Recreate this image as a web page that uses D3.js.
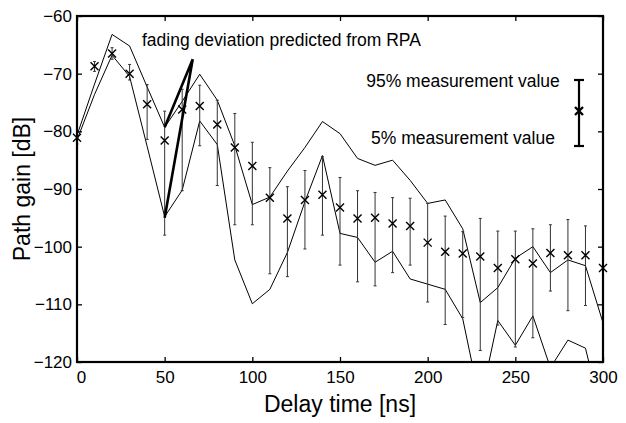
<!DOCTYPE html>
<html>
<head>
<meta charset="utf-8">
<script src="https://cdn.jsdelivr.net/npm/d3@7"></script>
<style>
  body { margin: 0; background: #fff; }
  svg { display: block; font-family: "Liberation Sans", Arial, sans-serif; }
</style>
</head>
<body>
<svg id="chart" width="626" height="423"></svg>
<script>
// delay bins [ns]
var delay = [0,10,20,30,40,50,60,70,80,90,100,110,120,130,140,150,160,170,180,190,200,210,220,230,240,250,260,270,280,290,300];

// measured mean path gain [dB]
var meanGain = [-81.1,-68.7,-66.5,-70.0,-75.3,-81.6,-76.2,-75.6,-78.8,-82.8,-86.0,-91.5,-95.1,-91.9,-91.0,-93.2,-95.1,-95.0,-96.0,-96.4,-99.3,-100.9,-101.2,-101.7,-103.7,-102.2,-102.9,-101.1,-101.5,-101.5,-103.7];
// 95% and 5% measurement values
var p95 = [-80.2,-67.9,-65.5,-68.4,-71.9,-76.5,-72.7,-72.0,-74.6,-76.9,-81.9,-86.3,-89.6,-86.8,-84.4,-88.0,-90.3,-90.6,-91.5,-91.6,-92.5,-94.7,-97.4,-95.1,-97.3,-97.3,-96.9,-96.2,-95.3,-96.4,null];
var p5 = [-82.2,-69.6,-67.5,-71.1,-81.4,-98.0,-90.3,-82.5,-89.4,-96.2,-96.2,-104.7,-105.2,-100.4,-98.0,-103.2,-106.1,-106.8,-104.5,-103.2,-109.6,-113.5,-112.3,-118.0,-113.6,-117.4,-115.8,-107.7,-111.1,-110.2,null];

// RPA predicted bounds
var rpaUpper = [-80.7,-71.8,-63.2,-65.2,-72.3,-79.3,-74.8,-70.1,-74.6,-82.5,-92.7,-91.4,-86.9,-82.8,-78.3,-80.4,-84.7,-85.9,-85.0,-88.5,-92.5,-91.9,-96.9,-109.7,-107.1,-102.0,-100.0,-104.5,-102.3,-103.3,-113.2];
var rpaLower = [-81.5,-73.6,-66.8,-70.5,-82.6,-94.8,-90.2,-78.2,-82.3,-102.3,-109.9,-107.4,-101.0,-92.2,-84.2,-97.7,-98.4,-102.7,-100.8,-105.6,-106.5,-107.4,-112.5,-127.0,-112.8,-117.1,-112.0,-121.0,-116.2,-117.6,-130.0];

// thick "fading deviation" marker
var fadeX = [50, 66, 50];
var fadeY = [-79.3, -67.5, -95.0];

var xTicks = [0,50,100,150,200,250,300];
var yTicks = [-120,-110,-100,-90,-80,-70,-60];

var svg = d3.select('#chart');
var margin = {top: 16, right: 23, bottom: 61, left: 77};
var width = 626 - margin.left - margin.right;
var height = 423 - margin.top - margin.bottom;

var g = svg.append("g")
    .attr("transform", "translate(" + margin.left + "," + margin.top + ")");

var x = d3.scaleLinear().domain([0, 300]).range([0, width]);
var y = d3.scaleLinear().domain([-120, -60]).range([height, 0]);

g.append("clipPath").attr("id", "clip")
    .append("rect").attr("width", width).attr("height", height);

var plot = g.append("g").attr("clip-path", "url(#clip)");

// rpa lines
function lineOf(vals) {
    return d3.line()
        .x(function(d, i) { return x(delay[i]); })
        .y(function(d) { return y(d); })(vals);
}
[rpaUpper, rpaLower].forEach(function(s) {
    plot.append("path")
        .attr("d", lineOf(s))
        .attr("fill", "none")
        .attr("stroke", "#000")
        .attr("stroke-width", 1);
});

// error bars
var rows = delay.map(function(d, i) { return {x: d, m: meanGain[i], hi: p95[i], lo: p5[i]}; });
var eb = plot.selectAll(".eb")
    .data(rows.filter(function(r) { return r.hi != null; }))
    .enter().append("g").attr("class", "eb");
eb.append("line")
    .attr("x1", function(r) { return x(r.x); })
    .attr("x2", function(r) { return x(r.x); })
    .attr("y1", function(r) { return y(r.hi); })
    .attr("y2", function(r) { return y(r.lo); })
    .attr("stroke", "#333").attr("stroke-width", 1);
eb.append("line")
    .attr("x1", function(r) { return x(r.x) - 1.5; })
    .attr("x2", function(r) { return x(r.x) + 1.5; })
    .attr("y1", function(r) { return y(r.hi); })
    .attr("y2", function(r) { return y(r.hi); })
    .attr("stroke", "#333").attr("stroke-width", 1);
eb.append("line")
    .attr("x1", function(r) { return x(r.x) - 1.5; })
    .attr("x2", function(r) { return x(r.x) + 1.5; })
    .attr("y1", function(r) { return y(r.lo); })
    .attr("y2", function(r) { return y(r.lo); })
    .attr("stroke", "#333").attr("stroke-width", 1);

// thick fading deviation
plot.append("path")
    .attr("d", d3.line().x(function(d, i) { return x(fadeX[i]); }).y(function(d) { return y(d); })(fadeY))
    .attr("fill", "none")
    .attr("stroke", "#000")
    .attr("stroke-width", 2.6)
    .attr("stroke-linejoin", "miter");

// mean markers (x)
var cs = 4;
g.selectAll(".mk")
    .data(rows)
    .enter().append("path")
    .attr("class", "mk")
    .attr("d", function(r) {
        var cx = x(r.x), cy = y(r.m);
        return "M" + (cx - cs) + "," + (cy - cs) + "L" + (cx + cs) + "," + (cy + cs) +
               "M" + (cx - cs) + "," + (cy + cs) + "L" + (cx + cs) + "," + (cy - cs);
    })
    .attr("stroke", "#000")
    .attr("stroke-width", 1.4)
    .attr("fill", "none");

// axes box with inward ticks
var tick = 5;
g.append("g")
    .attr("transform", "translate(0," + height + ")")
    .call(d3.axisBottom(x).tickValues(xTicks).tickSizeInner(-tick).tickSizeOuter(0).tickPadding(9))
    .call(function(a) {
        a.select(".domain").remove();
        a.selectAll("text").style("font-size", "17px").attr("fill", "#000")
            .attr("dx", function(d) { return d === 0 ? 4 : 0; });
    });
g.append("g")
    .call(d3.axisLeft(y).tickValues(yTicks).tickSizeInner(-tick).tickSizeOuter(0).tickPadding(5))
    .call(function(a) {
        a.select(".domain").remove();
        a.selectAll("text").style("font-size", "17px").attr("fill", "#000");
    });
g.append("g")
    .call(d3.axisTop(x).tickValues(xTicks).tickSizeInner(-tick).tickSizeOuter(0).tickFormat(""))
    .call(function(a) { a.select(".domain").remove(); });
g.append("g")
    .attr("transform", "translate(" + width + ",0)")
    .call(d3.axisRight(y).tickValues(yTicks).tickSizeInner(-tick).tickSizeOuter(0).tickFormat(""))
    .call(function(a) { a.select(".domain").remove(); });
g.selectAll(".tick line").attr("stroke", "#000").attr("stroke-width", 1.3);

g.append("rect")
    .attr("width", width).attr("height", height)
    .attr("fill", "none").attr("stroke", "#000").attr("stroke-width", 2.2);

// annotation
g.append("text")
    .attr("x", 65).attr("y", 30)
    .style("font-size", "17.5px")
    .text("fading deviation predicted from RPA");

// legend
g.append("text")
    .attr("x", 386).attr("y", 71)
    .attr("text-anchor", "middle")
    .style("font-size", "17.5px")
    .text("95% measurement value");
g.append("text")
    .attr("x", 386).attr("y", 128)
    .attr("text-anchor", "middle")
    .style("font-size", "17.5px")
    .text("5% measurement value");

var lg = g.append("g").attr("transform", "translate(502,0)");
lg.append("line").attr("x1", 0).attr("x2", 0).attr("y1", 64).attr("y2", 130)
    .attr("stroke", "#000").attr("stroke-width", 2.2);
lg.append("line").attr("x1", -5).attr("x2", 5).attr("y1", 64).attr("y2", 64)
    .attr("stroke", "#000").attr("stroke-width", 2.2);
lg.append("line").attr("x1", -5).attr("x2", 5).attr("y1", 130).attr("y2", 130)
    .attr("stroke", "#000").attr("stroke-width", 2.2);
lg.append("path")
    .attr("d", "M-4,91L4,99M-4,99L4,91")
    .attr("stroke", "#000").attr("stroke-width", 2.4);

// axis titles
svg.append("text")
    .attr("x", margin.left + width / 2)
    .attr("y", 412)
    .attr("text-anchor", "middle")
    .style("font-size", "23px")
    .text("Delay time [ns]");

svg.append("text")
    .attr("transform", "translate(30," + (margin.top + height / 2) + ") rotate(-90)")
    .attr("text-anchor", "middle")
    .style("font-size", "23px")
    .text("Path gain [dB]");
</script>
</body>
</html>
